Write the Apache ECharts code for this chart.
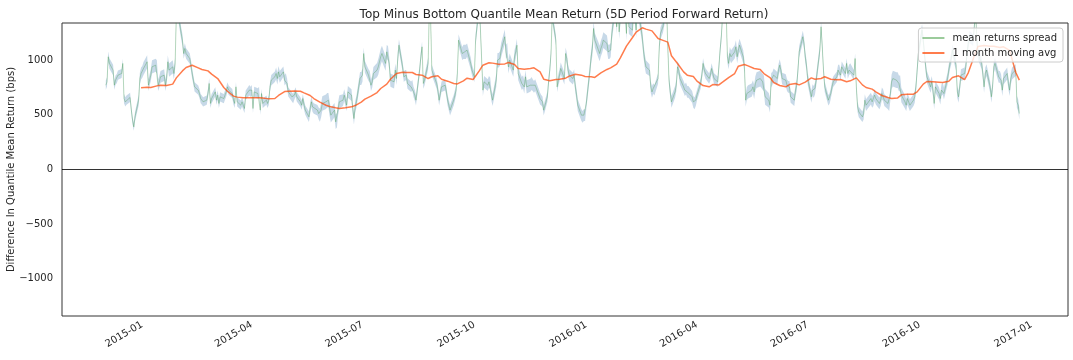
<!DOCTYPE html>
<html><head><meta charset="utf-8">
<script src="https://cdn.jsdelivr.net/npm/echarts@6/dist/echarts.min.js"></script>
<style>html,body{margin:0;padding:0;background:#fff}#c{width:1073px;height:360px}</style>
</head><body><div id="c"></div>
<script>
const chartTitle = 'Top Minus Bottom Quantile Mean Return (5D Period Forward Return)';
const yAxisName = 'Difference In Quantile Mean Return (bps)';
const seriesNames = ['mean returns spread', '1 month moving avg'];
const firstTradingDay = '2014-12-02';
const xRange = ['2014-10-27', '2017-01-31'];
const xTickLabels = ['2015-01','2015-04','2015-07','2015-10','2016-01','2016-04','2016-07','2016-10','2017-01'];
const yTickValues = [-1000, -500, 0, 500, 1000];
const yLimit = 1340;

// daily mean returns spread (bps), one value per trading day
const spreadBps = [
771,802,1031,970,909,771,817,832,863,878,
970,649,619,634,659,543,451,390,482,634,
832,878,893,924,985,771,817,863,939,954,
939,771,802,848,863,771,832,985,909,939,
878,970,1420,1460,1244,1183,1061,1107,1061,1015,
954,878,817,756,726,695,649,634,619,634,
695,787,604,649,710,634,680,604,665,649,
680,710,756,726,695,634,604,756,619,588,
619,588,558,680,726,710,726,558,710,695,
710,543,695,604,634,604,634,756,817,848,
878,832,893,848,
893,817,832,787,710,665,649,680,710,665,
619,588,649,588,543,482,558,619,573,558,
543,512,497,543,604,619,634,634,558,497,
543,436,451,558,619,634,680,634,588,710,
680,558,466,573,619,832,832,863,1061,939,
863,848,771,802,878,909,939,985,1031,1061,
970,1076,1061,970,817,802,909,832,1015,1137,
939,848,863,863,787,756,771,710,680,634,
909,1031,1122,787,817,970,1480,1400,909,878,
787,726,634,695,756,771,710,634,588,543,
634,680,726,878,1183,1061,1076,1076,1076,
1092,970,909,878,848,1183,1500,1275,1000,726,
802,771,802,787,680,634,817,1000,1000,1015,
1092,1214,1076,1092,939,1000,909,1031,1076,1137,
878,787,802,756,848,756,771,787,771,756,
771,680,649,634,619,543,665,802,909,1061,
1400,1183,756,817,863,924,832,1061,1015,909,
863,832,863,756,680,588,497,482,497,497,
604,909,1031,1107,1290,1183,1092,1061,1107,1137,
1183,1153,1076,1076,1092,1244,1500,1305,1550,1259,
1400,1600,1450,1244,1550,1305,1275,1500,1400,1275,
1500,1290,1214,1092,1000,939,909,756,710,
741,726,832,1122,1244,1275,1305,1480,1122,817,
710,619,710,771,939,909,832,756,726,741,
710,710,665,619,604,634,680,787,863,970,
909,878,832,863,924,878,832,802,939,1092,
1214,1400,1450,1031,970,1061,1031,1076,1122,1031,
1092,1137,1031,939,634,695,710,726,756,710,
787,817,832,817,802,787,665,634,588,817,
832,863,832,909,954,909,832,817,771,756,
756,665,634,726,771,909,1076,1214,1153,1031,
954,832,665,726,710,741,817,1092,1305,1122,
909,756,634,649,695,756,802,848,909,
909,863,939,878,970,878,909,924,863,1015,
756,573,527,482,512,634,588,604,649,619,
634,680,649,604,634,695,680,634,604,588,
695,802,832,817,817,787,787,680,619,588,
649,619,588,634,665,756,909,1061,1275,1183,
1061,939,848,756,802,726,604,756,695,649,
726,741,695,832,909,970,1015,1092,954,710,
665,756,863,878,939,1061,1153,1214,1183,1305,
1480,1183,1061,970,878,756,878,909,756,665,
756,939,970,848,848,817,726,832,878,787,
726,832,878,909,619,588,512
];

// standard error of the spread (bps), one per trading day
const spreadStdBps = [
42,42,48,48,48,42,42,42,42,42,
42,42,42,42,42,36,36,36,42,48,
54,54,54,60,60,54,54,54,60,60,
60,54,54,54,54,54,54,60,60,60,
54,54,60,60,54,54,48,48,48,48,
48,48,42,42,42,42,42,42,42,42,
42,48,42,42,42,42,42,42,42,42,
42,42,42,42,42,42,42,42,42,42,
42,42,42,42,48,48,48,42,48,48,
48,42,42,42,42,42,42,42,48,48,
54,54,54,54,
48,48,48,48,42,42,42,42,42,42,
42,42,42,42,42,48,48,48,48,48,
48,54,60,66,66,66,66,66,66,66,
66,66,66,60,60,54,54,54,54,54,
54,54,54,54,54,60,60,60,54,54,
54,54,54,54,60,66,72,72,72,72,
66,66,66,60,60,60,60,60,60,54,
48,48,48,48,48,48,48,48,48,48,
48,48,48,48,48,54,54,54,48,48,
48,48,48,48,48,48,48,48,48,48,
48,48,48,48,54,60,66,66,66,
60,54,48,48,48,54,54,54,54,54,
54,54,54,54,54,54,60,66,66,66,
66,66,66,66,60,60,60,60,60,60,
60,60,60,60,60,60,60,60,54,54,
54,54,54,48,48,48,48,48,48,48,
48,48,48,54,54,54,54,54,54,54,
54,54,54,54,54,54,54,54,54,54,
54,60,66,66,66,66,72,72,72,72,
72,72,66,66,66,66,66,66,66,66,
66,66,66,66,66,66,66,66,66,66,
66,66,66,66,60,60,54,54,54,
48,48,48,54,54,54,54,54,54,54,
54,54,54,54,54,54,54,54,54,54,
54,54,54,54,54,54,48,48,48,48,
48,48,48,48,48,48,48,48,48,48,
48,48,48,54,54,60,60,60,60,60,
60,60,60,60,60,60,60,60,60,66,
66,72,72,72,72,72,72,66,66,66,
60,60,60,54,54,54,54,54,54,54,
54,54,54,54,54,54,54,54,54,54,
54,54,54,54,54,54,54,54,54,54,
48,48,48,48,48,48,48,48,48,
48,48,48,48,48,48,48,48,48,48,
48,48,48,48,54,54,54,54,54,54,
54,54,54,54,54,54,54,54,54,54,
60,66,72,72,72,72,72,66,60,54,
54,54,54,54,54,54,54,54,54,54,
54,54,54,54,54,54,54,54,54,54,
54,54,54,54,54,54,54,54,54,54,
54,54,54,54,54,54,54,54,54,54,
54,54,54,54,54,54,54,54,54,54,
54,54,54,54,54,54,54,54,54,54,
54,54,54,54,54,54,54
];

// 1 month moving average (bps), read every 3rd trading day from day 21
const maFirstDay = 21;
const maEveryDays = 3;
const maBps = [
747,753,750,765,771,768,781,838,902,933,954,930,915,902,872,832,750,716,671,662,656,656,656,656,653,646,649,677,
713,716,719,716,701,677,649,616,588,576,564,558,564,573,585,616,643,671,704,741,781,826,878,890,887,887,869,863,832,848,857,826,808,787,783,811,835,
823,902,954,976,973,963,966,979,960,924,918,924,930,893,826,811,823,826,835,854,872,863,851,848,842,884,915,930,963,1021,1128,1207,1256,1296,1284,1268,
1198,1186,1165,1040,970,893,863,851,808,768,756,777,774,799,841,878,945,960,948,924,915,878,841,796,768,756,777,787,774,799,838,826,832,848,826,820,
823,802,811,838,774,750,735,710,677,659,649,655,683,689,689,710,781,805,802,799,796,808,841,857,823,884,1040,1125,1134,1128,1128,1116,1122,1090,890,817
];

function pad(n){return (n<10?'0':'')+n;}
function tradingDays(start, n){
  const out=[]; const p=start.split('-').map(Number);
  const d=new Date(p[0],p[1]-1,p[2]);
  while(out.length<n){const w=d.getDay(); if(w!==0&&w!==6) out.push(d.getTime()); d.setDate(d.getDate()+1);}
  return out;
}
function ts(s){const p=s.split('-').map(Number);return new Date(p[0],p[1]-1,p[2]||1).getTime();}

const days = tradingDays(firstTradingDay, spreadBps.length);
const spreadData = days.map((d,i)=>[d, spreadBps[i]]);
const maData = maBps.map((v,k)=>[days[maFirstDay+k*maEveryDays], v]);

const font = 'DejaVu Sans';
const ink = '#262626';
const chart = echarts.init(document.getElementById('c'), null, {renderer:'canvas'});
chart.setOption({
  animation:false,
  backgroundColor:'#ffffff',
  textStyle:{fontFamily:font,color:ink},
  title:{text:chartTitle,left:559,top:4,textAlign:'center',
    textStyle:{fontFamily:font,fontSize:12,fontWeight:'normal',color:ink}},
  grid:{left:62,right:5,top:23,bottom:44,outerBoundsMode:'none',containLabel:false,
    show:true,borderColor:'#333333',borderWidth:1,backgroundColor:'transparent'},
  legend:{
    data:seriesNames, orient:'vertical', right:10, top:28,
    icon:'rect',
    backgroundColor:'rgba(255,255,255,0.8)', borderColor:'#cccccc', borderWidth:1, borderRadius:3,
    padding:[5,6,4,4], itemWidth:22, itemHeight:2, itemGap:5,
    textStyle:{fontFamily:font,fontSize:10,color:ink,padding:[0,0,0,3]}
  },
  xAxis:{
    type:'value', min:ts(xRange[0]), max:ts(xRange[1]),
    splitLine:{show:false}, axisLine:{show:false}, axisTick:{show:false},
    axisLabel:{rotate:30, fontSize:10, color:ink, margin:8, fontFamily:font,
      customValues:xTickLabels.map(ts),
      formatter:function(v){const d=new Date(v);return d.getFullYear()+'-'+pad(d.getMonth()+1);}}
  },
  yAxis:{
    type:'value', min:-yLimit, max:yLimit,
    splitLine:{show:false}, axisLine:{show:false}, axisTick:{show:false},
    name:yAxisName, nameLocation:'middle', nameGap:46, nameMoveOverlap:false,
    nameTextStyle:{fontSize:10,color:ink,fontFamily:font},
    axisLabel:{fontSize:10,color:ink,margin:9,fontFamily:font,customValues:yTickValues,
      formatter:function(v){return v<0?'\u2212'+Math.abs(v):String(v);}}
  },
  series:[
    {name:'std band',type:'custom',silent:true,clip:true,z:1,
      data:[[days[0], spreadBps[0]]],
      renderItem:function(params, api){
        const pts=[];
        for(let i=0;i<days.length;i++) pts.push(api.coord([days[i], spreadBps[i]+spreadStdBps[i]]));
        for(let i=days.length-1;i>=0;i--) pts.push(api.coord([days[i], spreadBps[i]-spreadStdBps[i]]));
        return {type:'polygon',shape:{points:pts},style:{fill:'rgba(70,130,180,0.3)',stroke:null}};
      }},
    {name:seriesNames[0],type:'line',data:spreadData,symbol:'none',z:2,
      itemStyle:{color:'rgba(34,139,34,0.45)'},
      lineStyle:{color:'#228b22',opacity:0.4,width:0.7},
      markLine:{silent:true,symbol:'none',label:{show:false},
        lineStyle:{color:'#000000',opacity:0.8,width:1,type:'solid'},
        data:[{yAxis:0}]}},
    {name:seriesNames[1],type:'line',data:maData,symbol:'none',z:3,
      itemStyle:{color:'rgba(255,69,0,0.7)'},
      lineStyle:{color:'#ff4500',opacity:0.7,width:1.5}}
  ]
});
</script></body></html>
